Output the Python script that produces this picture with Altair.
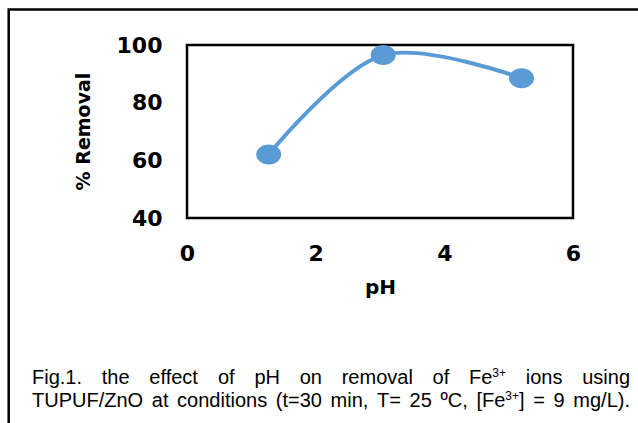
import re
import altair as alt
import pandas as pd

# Measured series: pH vs. % removal
ph_values = [1.27, 3.05, 5.2]
removal_values = [62, 96.5, 88.5]
x_ticks = [0, 2, 4, 6]
y_ticks = [40, 60, 80, 100]

# Caption, one list of words per line; {..} marks a superscript
caption_line1 = ["Fig.1.", "the", "effect", "of", "pH", "on", "removal", "of",
                 "Fe{3+}", "ions", "using"]
caption_line2 = ["TUPUF/ZnO", "at", "conditions", "(t=30", "min,", "T=", "25",
                 "ºC,", "[Fe{3+}]", "=", "9", "mg/L)."]

W_PLOT, H_PLOT = 386, 173
LEFT, TOP = 187, 45
BLUE = "#5B9BD5"

# Arial advance widths (1/1000 em) for the caption glyphs
ARIAL = {" ": 278, "(": 333, ")": 333, "+": 584, ",": 278, ".": 278, "/": 278,
         "=": 584, "[": 278, "]": 278, "º": 365,
         **{d: 556 for d in "0123456789"},
         "C": 722, "F": 611, "H": 722, "L": 556, "O": 778, "P": 667, "T": 611,
         "U": 722, "Z": 611,
         "a": 556, "c": 500, "d": 556, "e": 556, "f": 278, "g": 556, "h": 556,
         "i": 222, "l": 222, "m": 833, "n": 556, "o": 556, "p": 556, "r": 333,
         "s": 500, "t": 278, "u": 556, "v": 500}

CAP_SIZE, SUP_SIZE, SUP_RISE = 20, 12, 7


def width(text, size):
    return sum(ARIAL.get(c, 556) for c in text) / 1000 * size


def pieces(word):
    # split a word into (text, is_superscript) runs
    out = []
    for part in re.split(r"(\{[^}]*\})", word):
        if not part:
            continue
        if part.startswith("{"):
            out.append((part[1:-1], True))
        else:
            out.append((part, False))
    return out


def word_width(word):
    return sum(width(t, SUP_SIZE if s else CAP_SIZE) for t, s in pieces(word))


def justify(words, x0, x1, baseline):
    # spread the words so the line spans x0..x1
    total = sum(word_width(w) for w in words)
    gap = (x1 - x0 - total) / (len(words) - 1)
    rows, x = [], x0
    for w in words:
        cx = x
        for t, s in pieces(w):
            size = SUP_SIZE if s else CAP_SIZE
            rows.append({"txt": t, "px": cx - LEFT,
                         "py": baseline - (SUP_RISE if s else 0) - TOP,
                         "fs": size})
            cx += width(t, size)
        x += word_width(w) + gap
    return rows


caption = pd.DataFrame(justify(caption_line1, 32, 630, 384)
                       + justify(caption_line2, 32, 630, 407))

data = pd.DataFrame({"pH": ph_values, "removal": removal_values})

x_enc = alt.X("pH:Q", scale=alt.Scale(domain=[0, 6], nice=False),
              axis=alt.Axis(values=x_ticks, format="d", title="pH", grid=False,
                            ticks=False, domain=False, labelFlush=False,
                            labelFont="DejaVu Sans",
                            labelFontSize=22, labelFontWeight="bold",
                            labelColor="black", labelPadding=25,
                            titleFont="DejaVu Sans", titleFontSize=20,
                            titleFontWeight="bold", titleColor="black",
                            titleBaseline="alphabetic", titleY=75))
y_enc = alt.Y("removal:Q", scale=alt.Scale(domain=[40, 100], nice=False),
              axis=alt.Axis(values=y_ticks, format="d", title="% Removal",
                            grid=False, ticks=False, domain=False,
                            labelFlush=False,
                            labelFont="DejaVu Sans", labelFontSize=22,
                            labelFontWeight="bold", labelColor="black",
                            labelPadding=25, titleFont="DejaVu Sans",
                            titleFontSize=19, titleFontWeight="bold",
                            titleColor="black", titleAngle=-90,
                            titleBaseline="middle", titleAlign="center",
                            titleX=-104, titleY=86))

line = alt.Chart(data).mark_line(
    interpolate="catmull-rom", color=BLUE, strokeWidth=4
).encode(x=x_enc, y=y_enc)

ellipse = "M-1.25,0A1.25,1,0,1,0,1.25,0A1.25,1,0,1,0,-1.25,0Z"
points = alt.Chart(data).mark_point(
    shape=ellipse, filled=True, color=BLUE, opacity=1, size=400
).encode(x="pH:Q", y="removal:Q")

plot = alt.layer(line, points)

text = alt.Chart(caption).mark_text(
    font="Liberation Sans", align="left", baseline="alphabetic", color="black"
).encode(
    x=alt.X("px:Q", scale=None, axis=None),
    y=alt.Y("py:Q", scale=None, axis=None),
    size=alt.Size("fs:Q", scale=None, legend=None),
    text="txt:N",
)

frame = alt.Chart(pd.DataFrame({"k": [0]})).mark_rect(
    fill=None, stroke="black", strokeWidth=2.5
).encode(
    x=alt.value(8.7 - LEFT), x2=alt.value(700),
    y=alt.value(9.5 - TOP), y2=alt.value(500),
)

chart = alt.layer(plot, text, frame).resolve_scale(
    x="independent", y="independent"
).properties(
    width=W_PLOT, height=H_PLOT,
    autosize=alt.AutoSizeParams(type="none"),
    padding={"left": LEFT, "top": TOP, "right": 638 - LEFT - W_PLOT,
             "bottom": 423 - TOP - H_PLOT},
    background="white",
).configure_view(stroke="black", strokeWidth=2.5)

chart.save("out.html", embed_options={"renderer": "svg", "actions": False})
